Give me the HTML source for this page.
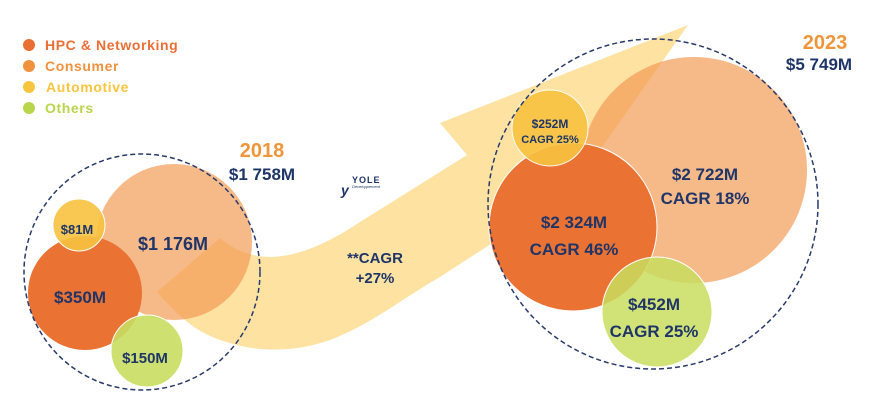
<!DOCTYPE html>
<html><head><meta charset="utf-8"><style>
html,body{margin:0;padding:0;background:#fff;}
svg{display:block;font-family:"Liberation Sans",sans-serif;font-weight:bold;}
</style></head><body>
<svg width="889" height="401" viewBox="0 0 889 401" xmlns="http://www.w3.org/2000/svg">
<!-- legend -->
<circle cx="29" cy="45" r="6" fill="#ea6f35"/>
<circle cx="29" cy="66" r="6" fill="#f0913e"/>
<circle cx="29" cy="87" r="6" fill="#f7c540"/>
<circle cx="29" cy="108" r="6" fill="#b9d54c"/>
<text x="45" y="50" font-size="14" letter-spacing="0.6" fill="#ea6f35">HPC &amp; Networking</text>
<text x="45" y="71" font-size="14" letter-spacing="0.6" fill="#f0913e">Consumer</text>
<text x="46" y="92" font-size="14" letter-spacing="0.6" fill="#f7c540">Automotive</text>
<text x="45" y="113" font-size="14" letter-spacing="0.6" fill="#b9d54c">Others</text>
<!-- band arrow -->
<path d="M157,292 L220,238 C255,268 300,262 360,222 L467,155 L440,123 L688,25 L600,150 L520,225 L440,277 C400,300 370,325 330,340 C290,354 250,352 215,338 C195,330 180,318 157,292 Z" fill="#fde2a2"/>
<!-- left group -->
<circle cx="174" cy="242" r="78" fill="#f29b55" fill-opacity="0.7"/>
<circle cx="85" cy="293" r="57" fill="#ea7233"/>
<circle cx="79" cy="225" r="26" fill="#f7c23f" fill-opacity="0.9" stroke="#fff" stroke-width="1"/>
<circle cx="147" cy="351" r="36" fill="#c9dd5f" fill-opacity="0.9" stroke="#fff" stroke-width="1"/>
<circle cx="142" cy="272" r="118" fill="none" stroke="#2a3a6b" stroke-width="1.5" stroke-dasharray="5,3"/>
<!-- right group -->
<circle cx="694" cy="170" r="113" fill="#f29b55" fill-opacity="0.7"/>
<circle cx="573" cy="227" r="84" fill="#ea7233" stroke="#fff" stroke-width="1"/>
<circle cx="550" cy="128" r="38" fill="#f7c23f" fill-opacity="0.9" stroke="#fff" stroke-width="1"/>
<circle cx="657" cy="312" r="55" fill="#c9dd5f" fill-opacity="0.85" stroke="#fff" stroke-width="1"/>
<circle cx="653" cy="204" r="165" fill="none" stroke="#2a3a6b" stroke-width="1.5" stroke-dasharray="5,3"/>
<!-- titles -->
<text x="262" y="157" font-size="20" fill="#f0953a" text-anchor="middle">2018</text>
<text x="262" y="180" font-size="17" fill="#1f3568" text-anchor="middle">$1 758M</text>
<text x="825" y="49" font-size="20" fill="#f0953a" text-anchor="middle">2023</text>
<text x="819" y="70" font-size="17" fill="#1f3568" text-anchor="middle">$5 749M</text>
<text x="375" y="263" font-size="15" fill="#1f3568" text-anchor="middle">**CAGR</text>
<text x="375" y="283" font-size="15" fill="#1f3568" text-anchor="middle">+27%</text>
<!-- logo -->
<text x="341" y="195" font-size="14" fill="#1f3568" font-style="italic">y</text>
<text x="352" y="183" font-size="9" fill="#1f3568" letter-spacing="1">YOLE</text>
<text x="352" y="188" font-size="4" fill="#1f3568" font-weight="normal" font-style="italic">Développement</text>
<!-- labels -->
<g fill="#1f3568" text-anchor="middle">
<text x="77" y="234" font-size="13">$81M</text>
<text x="173" y="250" font-size="18">$1 176M</text>
<text x="80" y="303" font-size="17">$350M</text>
<text x="145" y="363" font-size="15">$150M</text>
<text x="550" y="128" font-size="12">$252M</text>
<text x="550" y="143" font-size="11">CAGR 25%</text>
<text x="705" y="180" font-size="17">$2 722M</text>
<text x="705" y="204" font-size="17">CAGR 18%</text>
<text x="574" y="228" font-size="17">$2 324M</text>
<text x="574" y="255" font-size="17">CAGR 46%</text>
<text x="654" y="310" font-size="17">$452M</text>
<text x="654" y="337" font-size="17">CAGR 25%</text>
</g>
</svg>
</body></html>
